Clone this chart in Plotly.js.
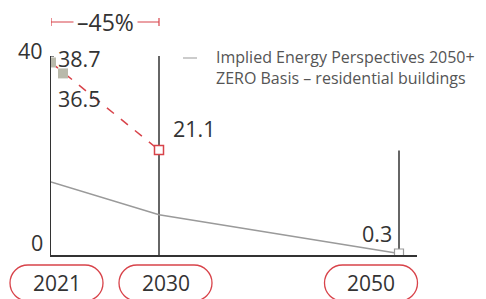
<!DOCTYPE html>
<html>
<head>
<meta charset="utf-8">
<script src="https://cdn.plot.ly/plotly-3.0.1.min.js"></script>
<style>html,body{margin:0;padding:0;background:#fff;}#chart{width:486px;height:299px;}</style>
</head>
<body>
<div id="chart"></div>
<script>
// ---- data ----
var years = [2021, 2030, 2050];
var yearLabels = ['2021', '2030', '2050'];
var targetYears = [2021, 2030];
var targetValues = [38.7, 21.1];
var actualYears = [2021, 2022];
var actualValues = [38.7, 36.5];
var endYear = [2050];
var endValue = [0.3];
var perspYears = [2021, 2030, 2050];
var perspValues = [14.7, 8.1, 0.3];
var guideYears = [2030, 2050];
var guideTops = [40, 21];
var reductionLabel = '–45%';
var legendText = 'Implied Energy Perspectives 2050+<br>ZERO Basis – residential buildings';

// ---- layout geometry ----
var W = 486, H = 299;
var M = {l: 51, r: 69, t: 56, b: 44};
var xRange = [2021, 2051.5];
var yRange = [0, 40];
var pw = W - M.l - M.r, ph = H - M.t - M.b;
function xpx(v){ return M.l + (v - xRange[0]) / (xRange[1] - xRange[0]) * pw; }
function pxToPaperX(px){ return (px - M.l) / pw; }
function pyToPaperY(py){ return (H - M.b - py) / ph; }

var red = '#d8434a', dark = '#333333', gray = '#9a9a9a';
var font = 'Open Sans, sans-serif';

var traces = [
  {x: perspYears, y: perspValues, mode: 'lines', line: {color: gray, width: 1.5}, hoverinfo: 'skip'},
  {x: targetYears, y: targetValues, mode: 'lines', line: {color: red, width: 1.5, dash: 'dash'}, hoverinfo: 'skip'},
  {x: actualYears, y: actualValues, mode: 'markers', marker: {symbol: 'square', size: 10, color: '#b9b9aa'}, hoverinfo: 'skip'},
  {x: [targetYears[1]], y: [targetValues[1]], mode: 'markers', marker: {symbol: 'square', size: 9, color: '#fff', line: {color: red, width: 1.5}}, hoverinfo: 'skip'},
  {x: endYear, y: endValue, mode: 'markers', marker: {symbol: 'square', size: 9, color: '#fff', line: {color: gray, width: 1.2}}, hoverinfo: 'skip'}
];

var shapes = [];
guideYears.forEach(function(yr, i){
  shapes.push({type: 'line', xref: 'x', yref: 'y', x0: yr, x1: yr, y0: 0, y1: guideTops[i], line: {color: dark, width: 1.5}, layer: 'below'});
});
// tick at 40
shapes.push({type: 'line', xref: 'x', yref: 'y', xsizemode: 'pixel', xanchor: xRange[0], x0: -3, x1: 3, y0: 40, y1: 40, line: {color: dark, width: 1.2}});
// -45% bracket
var by = pyToPaperY(22), bt = pyToPaperY(18), bb = pyToPaperY(26);
shapes.push({type: 'line', xref: 'x', yref: 'paper', x0: targetYears[0], x1: targetYears[1], y0: by, y1: by, line: {color: red, width: 1.2}});
targetYears.forEach(function(yr){
  shapes.push({type: 'line', xref: 'x', yref: 'paper', x0: yr, x1: yr, y0: bt, y1: bb, line: {color: red, width: 1.2}});
});
// legend dash
shapes.push({type: 'line', xref: 'paper', yref: 'paper', x0: pxToPaperX(183), x1: pxToPaperX(197), y0: pyToPaperY(58), y1: pyToPaperY(58), line: {color: '#aaaaaa', width: 1.2}});

// year pills
var pillOffsets = [5.5, 6.5, -28];
var pillW = 93, pillH = 36, pillCY = 283;
var annotations = [];
years.forEach(function(yr, i){
  var cx = xpx(yr) + pillOffsets[i];
  var r = pillH / 2, x0 = cx - pillW / 2, x1 = cx + pillW / 2, y0 = pillCY - r, y1 = pillCY + r;
  var k = 0.5523 * r;
  function P(x, y){ return pxToPaperX(x) + ',' + pyToPaperY(y); }
  var path = 'M' + P(x0 + r, y0) + ' L' + P(x1 - r, y0) +
    ' C' + P(x1 - r + k, y0) + ' ' + P(x1, pillCY - k) + ' ' + P(x1, pillCY) +
    ' C' + P(x1, pillCY + k) + ' ' + P(x1 - r + k, y1) + ' ' + P(x1 - r, y1) +
    ' L' + P(x0 + r, y1) +
    ' C' + P(x0 + r - k, y1) + ' ' + P(x0, pillCY + k) + ' ' + P(x0, pillCY) +
    ' C' + P(x0, pillCY - k) + ' ' + P(x0 + r - k, y0) + ' ' + P(x0 + r, y0) + ' Z';
  shapes.push({type: 'path', xref: 'paper', yref: 'paper', path: path, line: {color: red, width: 1.3}});
  annotations.push({x: yr, xref: 'x', y: pyToPaperY(pillCY), yref: 'paper', xshift: pillOffsets[i], text: yearLabels[i], showarrow: false, xanchor: 'center', yanchor: 'middle', font: {family: font, size: 21, color: dark}});
});

// value labels
var lblFont = {family: font, size: 21.5, color: dark};
annotations.push({x: actualYears[0], y: actualValues[0], text: String(actualValues[0]), showarrow: false, xanchor: 'left', yanchor: 'middle', xshift: 5, yshift: 4, font: lblFont});
annotations.push({x: actualYears[1], y: actualValues[1], text: String(actualValues[1]), showarrow: false, xanchor: 'left', yanchor: 'middle', xshift: -7, yshift: -25, font: lblFont});
annotations.push({x: targetYears[1], y: targetValues[1], text: String(targetValues[1]), showarrow: false, xanchor: 'left', yanchor: 'middle', xshift: 12, yshift: 22, font: lblFont});
annotations.push({x: endYear[0], y: endValue[0], text: String(endValue[0]), showarrow: false, xanchor: 'right', yanchor: 'middle', xshift: -5, yshift: 20, font: lblFont});
// axis labels
annotations.push({x: 0, xref: 'paper', y: 40, yref: 'y', text: '40', showarrow: false, xanchor: 'right', yanchor: 'middle', xshift: -6, yshift: 6, font: lblFont});
annotations.push({x: 0, xref: 'paper', y: 0, yref: 'y', text: '0', showarrow: false, xanchor: 'right', yanchor: 'middle', xshift: -6, yshift: 13, font: lblFont});
// -45%
annotations.push({x: (targetYears[0] + targetYears[1]) / 2, xref: 'x', y: by, yref: 'paper', text: reductionLabel, showarrow: false, xanchor: 'center', yanchor: 'middle', bgcolor: '#fff', borderpad: 3, font: {family: font, size: 23, color: dark}});
// legend text
annotations.push({x: pxToPaperX(214), xref: 'paper', y: pyToPaperY(67.5), yref: 'paper', text: legendText, showarrow: false, xanchor: 'left', yanchor: 'middle', align: 'left', font: {family: font, size: 16, color: '#555'}});

var layout = {
  width: W, height: H,
  margin: M,
  paper_bgcolor: '#fff', plot_bgcolor: '#fff',
  showlegend: false,
  xaxis: {range: xRange, showgrid: false, zeroline: false, showline: true, linecolor: dark, linewidth: 1.5, showticklabels: false, ticks: '', fixedrange: true},
  yaxis: {range: yRange, showgrid: false, zeroline: false, showline: true, linecolor: dark, linewidth: 1.5, showticklabels: false, ticks: '', fixedrange: true},
  shapes: shapes,
  annotations: annotations
};

Plotly.newPlot('chart', traces, layout, {displayModeBar: false, staticPlot: true});
</script>
</body>
</html>
